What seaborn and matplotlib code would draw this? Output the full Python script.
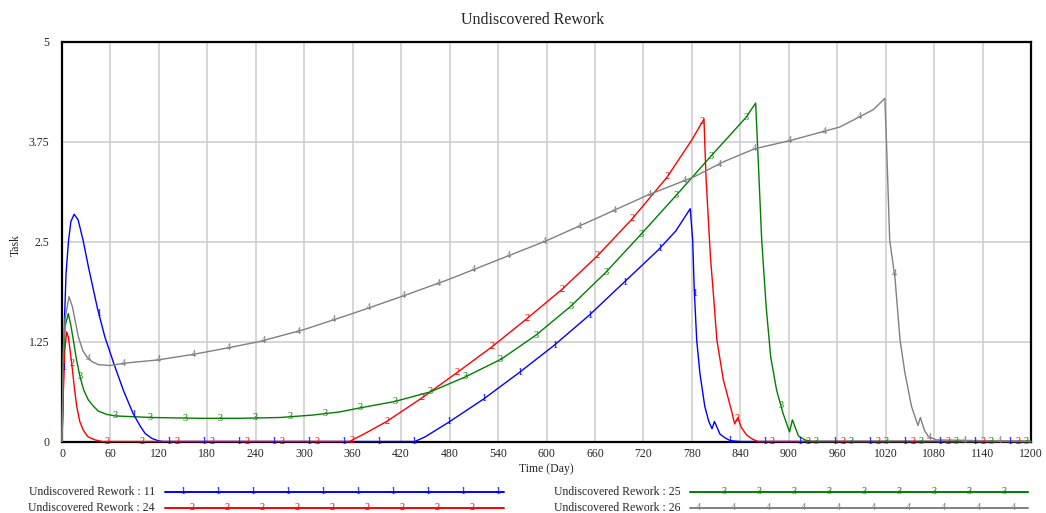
import numpy as np
import pandas as pd
import matplotlib
matplotlib.use("Agg")
import matplotlib.pyplot as plt
from matplotlib.lines import Line2D
import seaborn as sns

# Simulation runs (time in days, undiscovered rework in tasks)
run_names = ["Undiscovered Rework : 11", "Undiscovered Rework : 24",
             "Undiscovered Rework : 25", "Undiscovered Rework : 26"]
run_ids = ["1", "2", "3", "4"]

t_11 = [0, 1.6, 3, 5, 8, 11, 15, 20, 26, 33, 44, 53, 64, 76, 88, 97, 103, 111, 119, 125,
        437, 450, 478, 522, 566, 608, 652, 695, 738, 760, 778, 781, 783, 786, 790, 796,
        801, 805, 808, 815, 822, 828, 840, 1200]
v_11 = [0, 0.69, 1.5, 2.1, 2.5, 2.75, 2.84, 2.77, 2.52, 2.17, 1.66, 1.31, 0.98, 0.64, 0.35,
        0.19, 0.10, 0.04, 0.01, 0,
        0, 0.06, 0.235, 0.53, 0.86, 1.19, 1.57, 1.98, 2.39, 2.63, 2.91, 2.52, 1.89, 1.27,
        0.85, 0.44, 0.25, 0.16, 0.25, 0.09, 0.04, 0.01, 0, 0]

t_24 = [0, 1.6, 3.5, 5.8, 8, 12, 15, 18.2, 22, 26.4, 32, 41, 50,
        356, 377, 402, 445, 489, 532, 575, 619, 662, 705, 749, 780, 795,
        797.5, 800, 803, 807, 811, 819, 829, 833, 837, 841, 848, 855, 862, 1200]
v_24 = [0, 0.6, 1.15, 1.37, 1.3, 0.98, 0.7, 0.44, 0.25, 0.14, 0.06, 0.02, 0,
        0, 0.11, 0.25, 0.54, 0.86, 1.18, 1.53, 1.90, 2.31, 2.77, 3.30, 3.77, 4.03,
        3.31, 2.85, 2.31, 1.80, 1.27, 0.77, 0.39, 0.22, 0.30, 0.18, 0.08, 0.03, 0, 0]

t_25 = [0, 1.6, 4, 7.8, 11, 14, 18, 22.3, 27, 32.6, 39, 45, 55, 65.6, 88, 111, 171, 220,
        270, 310, 344, 369, 412, 456, 500, 544, 587, 630, 673, 717, 760, 803, 847, 859,
        862, 866.5, 872, 877.6, 885, 893, 901, 904.5, 912, 920, 928, 1200]
v_25 = [0, 1.02, 1.45, 1.60, 1.45, 1.27, 1.02, 0.81, 0.64, 0.52, 0.44, 0.38, 0.34, 0.32,
        0.31, 0.30, 0.29, 0.29, 0.30, 0.33, 0.37, 0.42, 0.50, 0.62, 0.81, 1.03, 1.33, 1.69,
        2.11, 2.59, 3.07, 3.56, 4.05, 4.23,
        3.56, 2.52, 1.69, 1.06, 0.64, 0.35, 0.12, 0.27, 0.07, 0.02, 0, 0]

t_26 = [0, 1.6, 4, 8.7, 13, 20.2, 26, 30.6, 37, 45, 59.4, 78, 119, 163, 200, 245, 300, 360,
        420, 480, 540, 600, 662, 723, 783, 820, 858, 901, 963, 988, 1005, 1019,
        1021, 1025, 1031.6, 1037.8, 1044, 1052, 1060, 1063, 1068, 1073, 1083, 1200]
v_26 = [0, 1.14, 1.55, 1.81, 1.68, 1.31, 1.13, 1.06, 1.0, 0.96, 0.95, 0.98, 1.02, 1.09,
        1.16, 1.25, 1.40, 1.60, 1.81, 2.03, 2.27, 2.51, 2.79, 3.07, 3.31, 3.50, 3.66, 3.76,
        3.93, 4.06, 4.15, 4.29,
        3.75, 2.52, 2.04, 1.27, 0.85, 0.44, 0.20, 0.30, 0.14, 0.06, 0.02, 0]

x_ticks = list(range(0, 1201, 60))
y_ticks = [0, 1.25, 2.5, 3.75, 5]
y_tick_labels = ["0", "1.25", "2.5", "3.75", "5"]

colors = ["#0000ff", "#ff0000", "#008000", "#808080"]
marker_offsets = [2.0, 12.0, 22.3, 32.6]
marker_step = 43.4

series = [(t_11, v_11), (t_24, v_24), (t_25, v_25), (t_26, v_26)]
frames = []
for name, (tt, vv) in zip(run_names, series):
    frames.append(pd.DataFrame({"Time": tt, "Task": vv, "Run": name}))
df = pd.concat(frames, ignore_index=True)

sns.set_style("white")
plt.rcParams["font.family"] = ["Liberation Serif", "DejaVu Serif"]

W, H = 1046, 513
fig = plt.figure(figsize=(W / 100, H / 100), dpi=100)
ax = fig.add_axes([62 / W, 1 - 441.5 / H, (1031 - 62) / W, 400 / H])

sns.lineplot(data=df, x="Time", y="Task", hue="Run", palette=colors,
             estimator=None, sort=False, legend=False, linewidth=1.0, ax=ax,
             zorder=3, clip_on=False)

# numbered run markers along each curve
for k, (tt, vv) in enumerate(series):
    for tm in np.arange(marker_offsets[k], 1200, marker_step):
        ax.text(tm, np.interp(tm, tt, vv), run_ids[k], color=colors[k], fontsize=7.5,
                ha="center", va="center", zorder=4, clip_on=False)

ax.set_xlim(0, 1200)
ax.set_ylim(0, 5)
ax.set_xticks(x_ticks)
ax.set_xticklabels([str(x) for x in x_ticks], fontsize=8.5)
ax.set_yticks(y_ticks)
ax.set_yticklabels(y_tick_labels, fontsize=8.5)
ax.tick_params(length=0, pad=5)
ax.tick_params(axis="y", pad=9)
ax.grid(True, color="#cccccc", linewidth=1.1)
ax.set_axisbelow(True)
for s in ax.spines.values():
    s.set_color("black")
    s.set_linewidth(1.6)

ax.set_xlabel("Time (Day)", fontsize=8.5, labelpad=2)
ax.set_ylabel("")
fig.text(16 / W, 1 - 245 / H, "Task", fontsize=8.5, rotation=90,
         ha="center", va="center")
fig.text(533 / W, 1 - 20 / H, "Undiscovered Rework", fontsize=11.5,
         ha="center", va="center")

# legend below the plot: two columns of label + sample line with run numbers
legend_layout = [
    (155, 492, 165, 504, 182.7, 10),
    (155, 508, 165, 504, 191.7, 9),
    (681, 492, 690, 1028, 724.0, 9),
    (681, 508, 690, 1028, 698.0, 10),
]
for k, (tx, ty, x0, x1, m0, nm) in enumerate(legend_layout):
    fig.text(tx / W, 1 - ty / H, run_names[k], fontsize=8.5, ha="right", va="center")
    fig.add_artist(Line2D([x0 / W, x1 / W], [1 - ty / H, 1 - ty / H],
                          transform=fig.transFigure, color=colors[k], linewidth=1.4))
    for j in range(nm):
        fig.text((m0 + 35 * j) / W, 1 - ty / H, run_ids[k], color=colors[k],
                 fontsize=7.5, ha="center", va="center")

fig.savefig("out.png", dpi=100)
